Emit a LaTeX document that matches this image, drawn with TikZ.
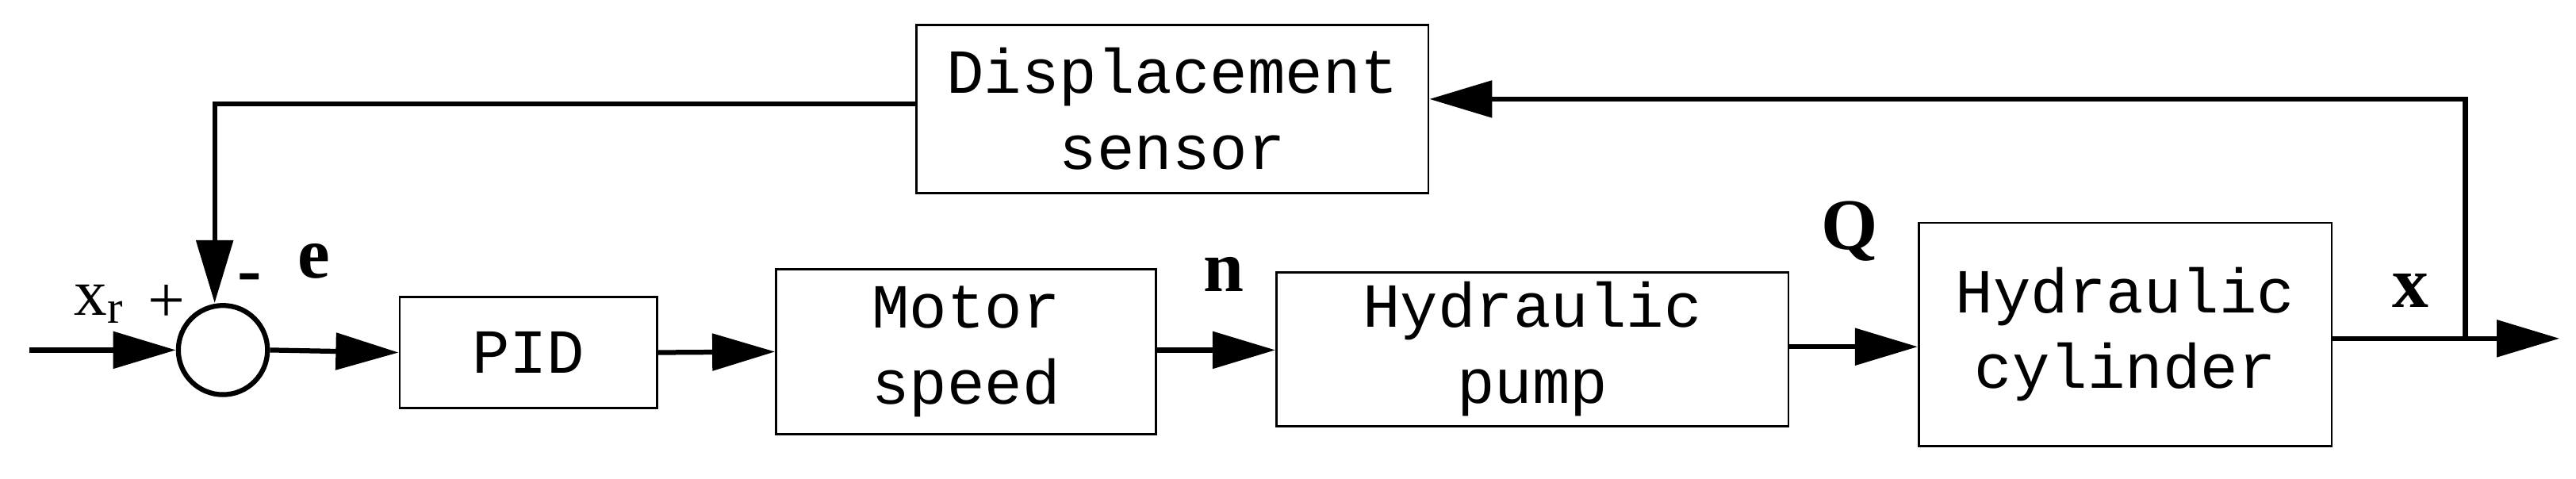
\documentclass[tikz,border=0pt]{standalone}
\usepackage{fontspec}
\setmainfont{Liberation Serif}
\newfontfamily\boxfont{Liberation Mono}
\usetikzlibrary{arrows.meta}
\begin{document}
\begin{tikzpicture}[x=1pt,y=-1pt,
  blk/.style={draw,line width=1.3pt,minimum width=#1,inner sep=0pt,align=center,font=\boxfont\fontsize{38}{46}\selectfont},
  sig/.style={line width=3pt,-{Triangle[length=38pt,width=22pt]}},
  lbl/.style={font=\fontsize{40}{44}\selectfont},
  blbl/.style={font=\bfseries\fontsize{44}{48}\selectfont}]
\useasboundingbox (0,0) rectangle (1560,290);
\node[blk=310pt,minimum height=102pt] (ds) at (710,66) {Displacement\\sensor};
\node[draw,circle,line width=3pt,minimum size=54pt,inner sep=0pt] (c) at (135,212) {};
\node[blk=156pt,minimum height=67pt] (pid) at (320,213.5) {PID};
\node[blk=230pt,minimum height=100pt] (ms) at (585,213) {Motor\\speed};
\node[blk=310pt,minimum height=93pt] (hp) at (928,211.5) {Hydraulic\\pump};
\node[blk=250pt,minimum height=135pt] (hc) at (1287,202.5) {Hydraulic\\cylinder};
\coordinate (in) at (18,212);
\coordinate (out) at (1550,205);
\coordinate (br) at (1493,205);
\coordinate (tr) at (1493,60);
\coordinate (tl) at (130,63);
\draw[sig] (in) -- (c.west);
\draw[sig] (c.east) -- (pid.west);
\draw[sig] (pid.east) -- (ms.west);
\draw[sig] (ms.east |- 0,212) -- (hp.west |- 0,212);
\draw[sig] (hp.east |- 0,210) -- (hc.west |- 0,210);
\draw[sig] (hc.east |- out) -- (out);
\draw[sig] (br) -- (tr) -- (ds.east |- tr);
\draw[sig] (ds.west |- tl) -- (tl) -- (c.north -| tl);
\node[lbl] (xr) at (60,184) {x\textsubscript{r}};
\node[lbl] (plus) at (101,184) {+};
\node[blbl] (minus) at (151,172) {-};
\node[blbl] (e) at (190,158) {e};
\node[blbl] (n) at (741,166) {n};
\node[blbl] (q) at (1120,140) {Q};
\node[blbl] (x) at (1460,176) {x};
\end{tikzpicture}
\end{document}
